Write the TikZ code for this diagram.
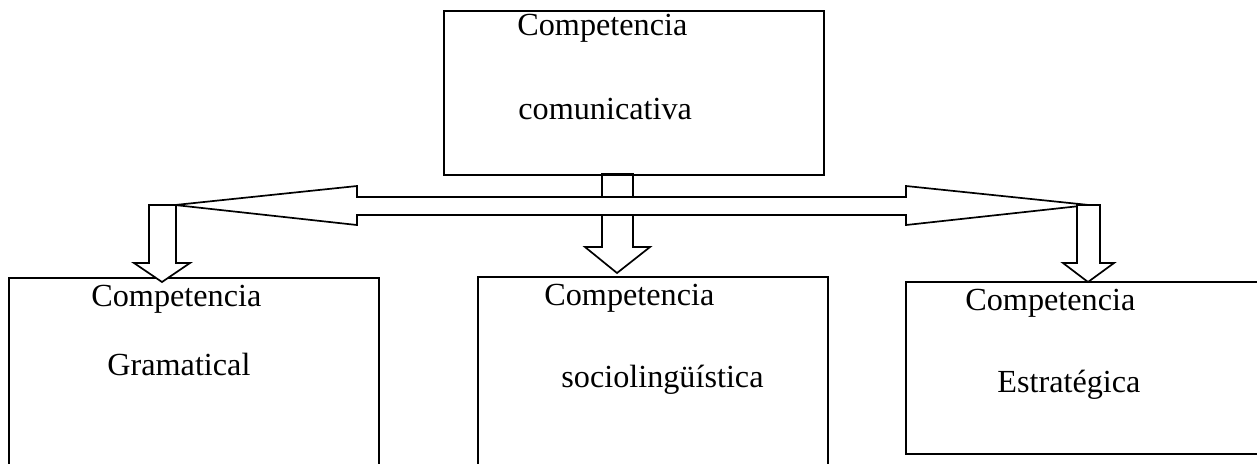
\documentclass[tikz,border=0pt]{standalone}
\usepackage{fontspec}
\setmainfont{Liberation Serif}
\usetikzlibrary{positioning}

\begin{document}
\begin{tikzpicture}
	[x=0.5pt,y=-0.5pt,every node/.style={font=\fontsize{16.1}{19}\selectfont},
	box/.style={draw, line width=1pt, inner sep=0pt, anchor=north west},
	txt/.style={anchor=base west, inner sep=0pt},
	blockarrow/.style={draw, line width=0.85pt, line join=miter}]
	\useasboundingbox (0,0) rectangle (1257,463);
	\clip (0,0) rectangle (1257,463);
	\node[box, minimum width=190pt, minimum height=82pt] (top) at (443,10) {};
	\node[box, minimum width=185pt, minimum height=105pt] (gram) at (8,277) {};
	\node[box, minimum width=175pt, minimum height=105pt] (socio) at (477,276) {};
	\node[box, minimum width=180pt, minimum height=86pt] (estr) at (905,281) {};
	
	\node[txt] (top1) at (517,35) {Competencia};
	\node[txt] (top2) at (518,119) {comunicativa};
	\node[txt] (gram1) at (91,306) {Competencia};
	\node[txt] (gram2) at (107,375) {Gramatical};
	\node[txt] (socio1) at (544,305) {Competencia};
	\node[txt] (socio2) at (561,387) {sociolingüística};
	\node[txt] (estr1) at (965,310) {Competencia};
	\node[txt] (estr2) at (997,392) {Estratégica};
	
	\draw[blockarrow, fill=white] (175,205) -- (357,186) -- (357,197) -- (906,197) -- (906,186) -- (1089,205)
		-- (906,225) -- (906,215) -- (357,215) -- (357,225) -- cycle;
	\draw[blockarrow] (602,197) -- (602,174) -- (633,174) -- (633,197);
	\draw[blockarrow] (602,215) -- (602,247) -- (585,247) -- (617,273) -- (650,247) -- (633,247) -- (633,215);
	\draw[blockarrow, fill=white] (149,205) -- (176,205) -- (176,263) -- (190,263) -- (162,282) -- (134,263) -- (149,263) -- cycle;
	\draw[blockarrow, fill=white] (1077,205) -- (1100,205) -- (1100,263) -- (1114,263) -- (1088,282) -- (1063,263) -- (1077,263) -- cycle;
\end{tikzpicture}
\end{document}
